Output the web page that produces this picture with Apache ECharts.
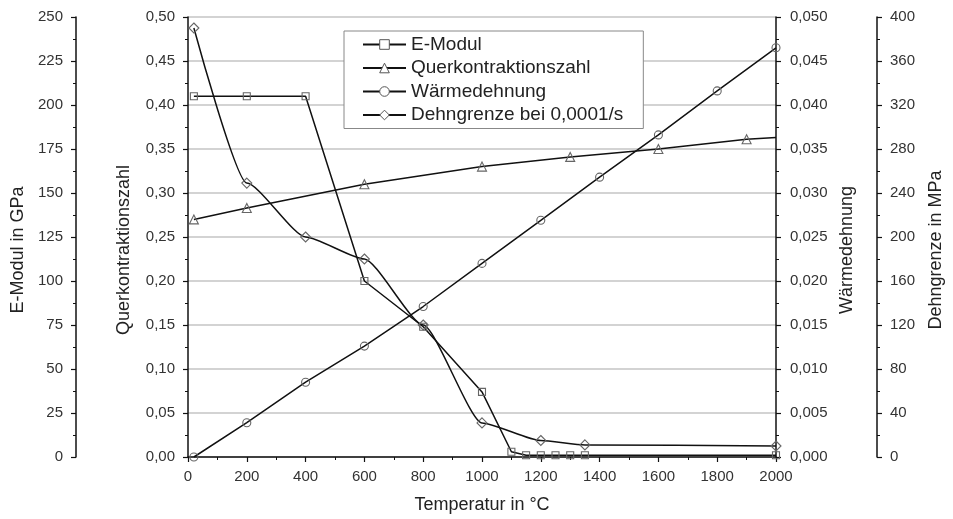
<!DOCTYPE html>
<html>
<head>
<meta charset="utf-8">
<script src="https://cdn.jsdelivr.net/npm/echarts@6/dist/echarts.min.js"></script>
<style>
  html, body { margin: 0; padding: 0; background: #fff; }
  #main { width: 953px; height: 519px; }
</style>
</head>
<body>
<div id="main"></div>
<script>
// Werte
var seriesNames = ['E-Modul', 'Querkontraktionszahl', 'Wärmedehnung', 'Dehngrenze bei 0,0001/s'];

var eModulT = [20, 200, 400, 600, 800, 1000, 1100, 1150, 1200, 1250, 1300, 1350, 2000];
var eModulVal = [205, 205, 205, 100, 74, 37, 3, 1, 1, 1, 1, 1, 1];

var querT = [20, 200, 600, 1000, 1300, 1600, 1900, 2000];
var querVal = [0.270, 0.283, 0.310, 0.330, 0.341, 0.350, 0.361, 0.363];

var waermeT = [20, 200, 400, 600, 800, 1000, 1200, 1400, 1600, 1800, 2000];
var waermeVal = [0, 0.0039, 0.0085, 0.0126, 0.0171, 0.0220, 0.0269, 0.0318, 0.0366, 0.0416, 0.0465];

var dehnT = [20, 200, 400, 600, 800, 1000, 1200, 1350, 2000];
var dehnVal = [390, 249, 200, 180, 120, 31, 15, 11, 10];

function pairs(xs, ys) {
	var out = [];
	for (var i = 0; i < xs.length; i++) out.push([xs[i], ys[i]]);
	return out;
}

var FONT = '"Liberation Sans", Arial, sans-serif';
var markerStyle = { color: 'rgba(255,255,255,0)', borderColor: '#666', borderWidth: 1.1 };
var lineStyle = { color: '#111', width: 1.5 };

function yAxisBase(opt) {
	var base = {
		type: 'value',
		nameLocation: 'middle',
		nameTextStyle: { fontFamily: FONT, fontSize: 18, color: '#222', padding: [0, 26, 0, 0] },
		axisLine: { show: true, onZero: false, lineStyle: { color: '#111', width: 1.5 } },
		axisTick: { show: true, inside: false, length: 5, lineStyle: { color: '#111', width: 1.2 } },
		minorTick: { show: true, splitNumber: 2, length: 3, lineStyle: { color: '#111', width: 1 } },
		axisLabel: { fontFamily: FONT, fontSize: 15, color: '#333', margin: 13 },
		splitLine: { show: false }
	};
	for (var k in opt) base[k] = opt[k];
	return base;
}

var chart = echarts.init(document.getElementById('main'));

var option = {
	backgroundColor: '#fff',
	animation: false,
	grid: { left: 188, right: 171, top: 17, bottom: 62, containLabel: false },
	legend: {
		orient: 'vertical',
		left: 344,
		top: 31,
		padding: [4, 20, 4, 18],
		itemGap: 4.5,
		itemWidth: 43,
		itemHeight: 12,
		backgroundColor: '#fff',
		borderColor: '#888',
		borderWidth: 1,
		itemStyle: { color: '#fff', borderColor: '#555', borderWidth: 1 },
		textStyle: { fontFamily: FONT, fontSize: 19, color: '#222', lineHeight: 18 },
		data: seriesNames
	},
	xAxis: {
		type: 'value',
		min: 0,
		max: 2000,
		interval: 200,
		name: 'Temperatur in °C',
		nameLocation: 'middle',
		nameGap: 39,
		nameTextStyle: { fontFamily: FONT, fontSize: 18, color: '#222' },
		axisLine: { show: true, onZero: false, lineStyle: { color: '#111', width: 1.5 } },
		axisTick: { show: true, length: 5, lineStyle: { color: '#111', width: 1.2 } },
		minorTick: { show: true, splitNumber: 2, length: 3, lineStyle: { color: '#111', width: 1 } },
		axisLabel: { fontFamily: FONT, fontSize: 15, color: '#333', margin: 12,
			formatter: function (v) { return String(v); } },
		splitLine: { show: false }
	},
	yAxis: [
		yAxisBase({
			name: 'E-Modul in GPa', position: 'left', offset: 112, nameGap: 49,
			min: 0, max: 250, interval: 25
		}),
		yAxisBase({
			name: 'Querkontraktionszahl', position: 'left', offset: 0, nameGap: 55,
			min: 0, max: 0.5, interval: 0.05,
			axisLabel: { fontFamily: FONT, fontSize: 15, color: '#333', margin: 13,
				formatter: function (v) { return v.toFixed(2).replace('.', ','); } },
			splitLine: { show: true, lineStyle: { color: '#c4c4c4', width: 1.5 } }
		}),
		yAxisBase({
			name: 'Wärmedehnung', position: 'right', offset: 0, nameGap: 62,
			min: 0, max: 0.05, interval: 0.005,
			axisLabel: { fontFamily: FONT, fontSize: 15, color: '#333', margin: 14,
				formatter: function (v) { return v.toFixed(3).replace('.', ','); } }
		}),
		yAxisBase({
			name: 'Dehngrenze in MPa', position: 'right', offset: 101, nameGap: 50,
			min: 0, max: 400, interval: 40
		})
	],
	series: [
		{
			name: seriesNames[0], type: 'line', yAxisIndex: 0,
			symbol: 'rect', symbolSize: 7,
			itemStyle: markerStyle, lineStyle: lineStyle,
			data: pairs(eModulT, eModulVal)
		},
		{
			name: seriesNames[1], type: 'line', yAxisIndex: 1,
			symbol: 'triangle', symbolSize: 9,
			itemStyle: markerStyle, lineStyle: lineStyle,
			data: pairs(querT, querVal).map(function (p, i, arr) {
				return i === arr.length - 1 ? { value: p, symbol: 'none' } : p;
			})
		},
		{
			name: seriesNames[2], type: 'line', yAxisIndex: 2,
			symbol: 'circle', symbolSize: 8,
			itemStyle: markerStyle, lineStyle: lineStyle,
			data: pairs(waermeT, waermeVal)
		},
		{
			name: seriesNames[3], type: 'line', yAxisIndex: 3,
			symbol: 'diamond', symbolSize: 10, smooth: 0.2, smoothMonotone: 'x',
			itemStyle: markerStyle, lineStyle: lineStyle,
			data: pairs(dehnT, dehnVal)
		}
	]
};

chart.setOption(option);
</script>
</body>
</html>
